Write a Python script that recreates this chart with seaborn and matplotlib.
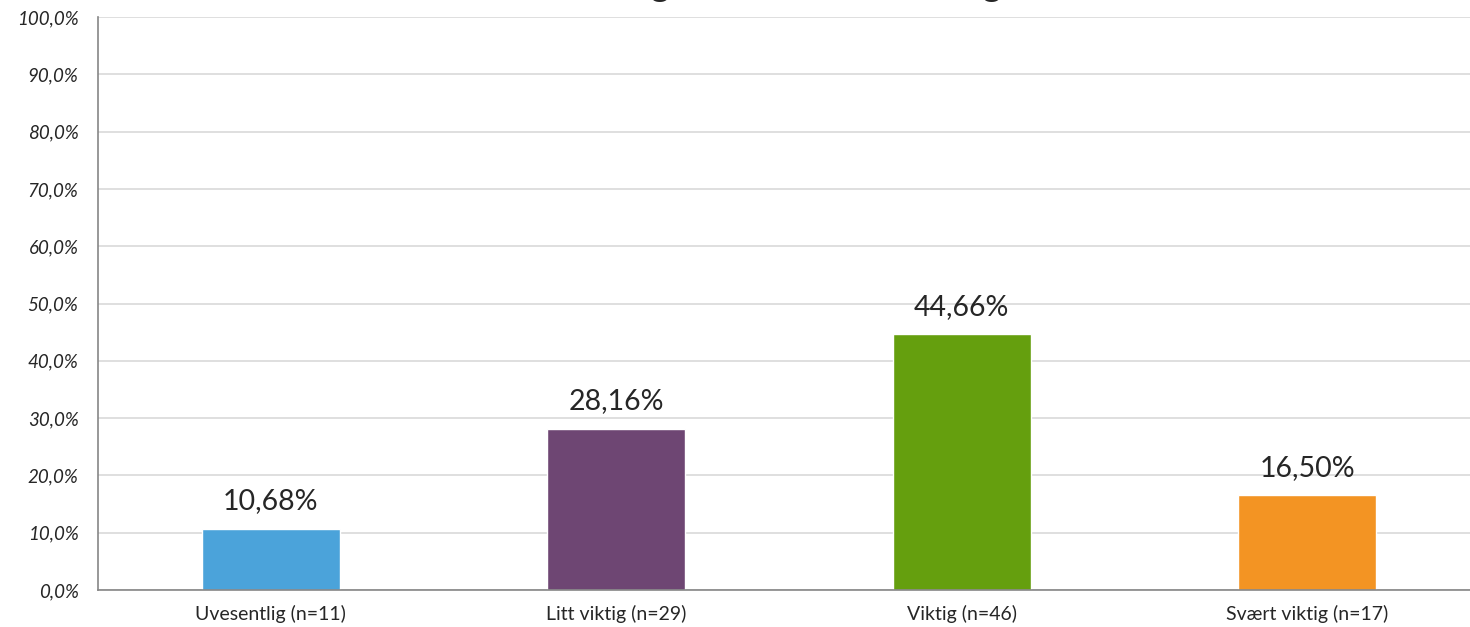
import matplotlib
matplotlib.use("Agg")
import matplotlib.pyplot as plt
import seaborn as sns
import pandas as pd
from matplotlib.ticker import FuncFormatter, MultipleLocator

# Data
categories = ["Uvesentlig (n=11)", "Litt viktig (n=29)", "Viktig (n=46)", "Svært viktig (n=17)"]
values = [10.68, 28.16, 44.66, 16.50]
colors = ["#4BA3DA", "#6E4673", "#659F0E", "#F39423"]
title = "Viktighet av tilbakemelding"

df = pd.DataFrame({"kategori": categories, "andel": values})

sns.set_style("white")
plt.rcParams["font.family"] = ["Lato", "DejaVu Sans"]

fig = plt.figure(figsize=(14.7, 6.27), dpi=100)
ax = fig.add_axes([98 / 1470, 37 / 627, 1382 / 1470, 573 / 627])

sns.barplot(data=df, x="kategori", y="andel", hue="kategori", palette=colors,
            width=0.4, saturation=1, legend=False, ax=ax)

ax.set_ylim(0, 100)
ax.set_xlim(-0.5, len(categories) - 0.5)
ax.yaxis.set_major_locator(MultipleLocator(10))
ax.yaxis.set_major_formatter(FuncFormatter(lambda v, p: f"{v:.1f}%".replace(".", ",")))
ax.grid(axis="y", color="#d9d9d9", linewidth=1.2)
ax.set_axisbelow(True)
for lab in ax.get_yticklabels():
    lab.set_fontstyle("italic")
ax.tick_params(axis="y", labelsize=13.5, length=6, color="#868686", direction="out", pad=8)
ax.tick_params(axis="x", labelsize=14, length=4, color="#868686", direction="inout", pad=9)
ax.set_xticks(range(len(categories)))
ax.set_xticks([i + 0.5 for i in range(len(categories) - 1)], minor=True)
ax.tick_params(axis="x", which="minor", length=14, direction="inout", color="#868686")
ax.set_xlabel("")
ax.set_ylabel("")

for s in ["top", "right"]:
    ax.spines[s].set_visible(False)
for s in ["left", "bottom"]:
    ax.spines[s].set_color("#868686")
    ax.spines[s].set_linewidth(1.2)

for i, v in enumerate(values):
    ax.text(i, v + 2.5, f"{v:.2f}%".replace(".", ","), ha="center", va="bottom", fontsize=20.5)

# title sits mostly above the canvas, only the descenders show, as in the original
fig.text(790 / 1470, 1 + 4 / 627, title, ha="center", va="baseline",
         fontsize=25, fontweight="bold")

fig.savefig("out.png", dpi=100)
